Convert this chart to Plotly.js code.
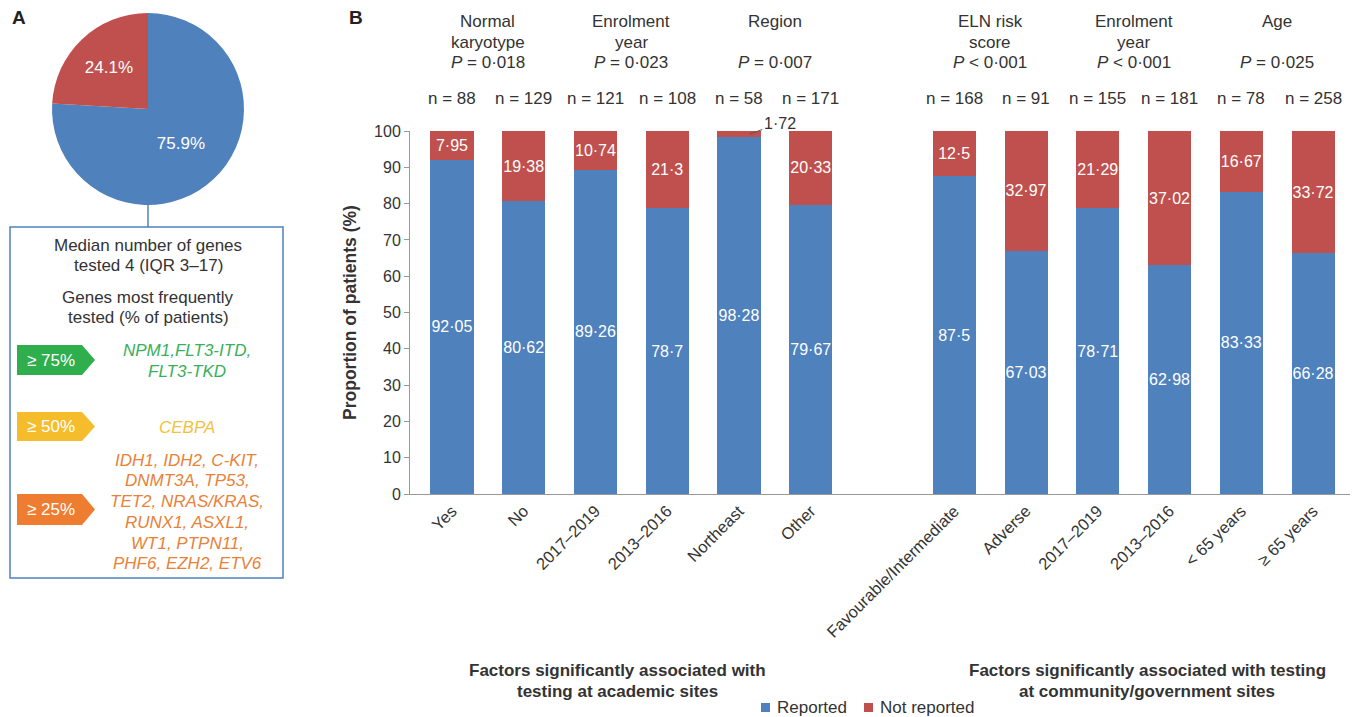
<!DOCTYPE html>
<html>
<head>
<meta charset="utf-8">
<script src="https://cdn.plot.ly/plotly-3.0.1.min.js"></script>
<style>html,body{margin:0;padding:0;background:#fff;}#chart{width:1358px;height:717px;}</style>
</head>
<body>
<div id="chart"></div>
<script>
// ---- Data ----
const barLabels = ["Yes", "No", "2017–2019", "2013–2016", "Northeast", "Other",
  "Favourable/Intermediate", "Adverse", "2017–2019", "2013–2016", "< 65 years", "≥ 65 years"];
const reported = [92.05, 80.62, 89.26, 78.7, 98.28, 79.67, 87.5, 67.03, 78.71, 62.98, 83.33, 66.28];
const notReported = [7.95, 19.38, 10.74, 21.3, 1.72, 20.33, 12.5, 32.97, 21.29, 37.02, 16.67, 33.72];
const nCounts = [88, 129, 121, 108, 58, 171, 168, 91, 155, 181, 78, 258];
const groupTitles = [["Normal", "karyotype"], ["Enrolment", "year"], ["Region"], ["ELN risk", "score"], ["Enrolment", "year"], ["Age"]];
const groupP = ["<i>P</i> = 0·018", "<i>P</i> = 0·023", "<i>P</i> = 0·007", "<i>P</i> < 0·001", "<i>P</i> < 0·001", "<i>P</i> = 0·025"];
const sectionLabels = [["Factors significantly associated with", "testing at academic sites"],
  ["Factors significantly associated with testing", "at community/government sites"]];
const seriesNames = ["Reported", "Not reported"];
const pieLabels = ["Reported", "Not reported"];
const pieValues = [75.9, 24.1];
const boxLines = ["Median number of genes", "tested 4 (IQR 3–17)", "Genes most frequently", "tested (% of patients)"];
const tierLabels = ["≥ 75%", "≥ 50%", "≥ 25%"];
const tierGenes = [
  ["NPM1,FLT3-ITD,", "FLT3-TKD"],
  ["CEBPA"],
  ["IDH1, IDH2, C-KIT,", "DNMT3A, TP53,", "TET2, NRAS/KRAS,", "RUNX1, ASXL1,", "WT1, PTPN11,", "PHF6, EZH2, ETV6"]
];

// ---- Layout helpers ----
const W = 1358, H = 717;
const px = x => x / W;
const py = y => 1 - y / H;
const BLUE = "#4F81BD", RED = "#C0504D";
const FONT = "Liberation Sans, Arial, Helvetica, sans-serif";
const TXT = "#333333";
const tierColors = ["#2FAE4E", "#F5BD2B", "#EE7D31"];
const tierTextColors = ["#38B05A", "#F2C23E", "#E98138"];

const xpos = barLabels.map((_, i) => i < 6 ? i : i + 1);
const fmt = v => String(v).replace(".", "·");

function note(x, y, text, size, color, opts) {
  return Object.assign({xref: "paper", yref: "paper", x: x, y: y, text: text, showarrow: false,
    xanchor: "center", yanchor: "middle", font: {size: size, family: FONT, color: color || TXT}}, opts || {});
}

const traces = [
  {
    type: "pie", labels: pieLabels, values: pieValues, sort: false, direction: "clockwise",
    rotation: 0, marker: {colors: [BLUE, RED], line: {width: 0}},
    text: pieValues.map(v => v.toFixed(1) + "%"), textinfo: "text", textposition: "inside",
    insidetextorientation: "horizontal",
    textfont: {color: "#fff", size: 17, family: FONT},
    domain: {x: [px(52), px(244)], y: [py(205), py(13)]},
    showlegend: false, hoverinfo: "skip"
  },
  {
    type: "bar", name: seriesNames[0], x: xpos, y: reported, marker: {color: BLUE}, width: 0.6,
    text: reported.map(fmt), textposition: "inside", insidetextanchor: "middle", textangle: 0,
    textfont: {color: "#fff", size: 16, family: FONT}, hoverinfo: "skip", showlegend: false
  },
  {
    type: "bar", name: seriesNames[1], x: xpos, y: notReported, marker: {color: RED}, width: 0.6,
    text: notReported.map(v => v < 5 ? "" : fmt(v)), textposition: "inside", insidetextanchor: "middle", textangle: 0,
    textfont: {color: "#fff", size: 16, family: FONT}, hoverinfo: "skip", showlegend: false
  }
];

const annotations = [];
const shapes = [];

// Panel letters
annotations.push(note(px(19), py(18), "<b>A</b>", 19, "#222"));
annotations.push(note(px(356), py(18), "<b>B</b>", 19, "#222"));

// Group headers
const headerY = [22, 43];
for (let g = 0; g < 6; g++) {
  const xc = (xpos[2 * g] + xpos[2 * g + 1]) / 2;
  groupTitles[g].forEach((t, j) => annotations.push(note(xc, py(headerY[j]), t, 17, TXT, {xref: "x"})));
  annotations.push(note(xc, py(63), groupP[g], 17, TXT, {xref: "x"}));
}
// n labels
xpos.forEach((x, i) => annotations.push(note(x, py(99), "n = " + nCounts[i], 17, TXT, {xref: "x"})));
// small value callouts
notReported.forEach((v, i) => {
  if (v < 5) {
    annotations.push({xref: "x", yref: "y", x: xpos[i] + 0.15, y: reported[i] + v / 2, text: fmt(v),
      showarrow: true, arrowhead: 0, arrowwidth: 1, arrowcolor: "#555", ax: 30, ay: -11,
      font: {size: 16, family: FONT, color: TXT}});
  }
});
// Section labels
const secX = [617, 1147];
sectionLabels.forEach((lines, s) => lines.forEach((t, j) =>
  annotations.push(note(px(secX[s]), py(670 + 21 * j), "<b>" + t + "</b>", 17, TXT))));

// Manual legend
const legMarkX = [761, 864];
[BLUE, RED].forEach((c, k) => {
  shapes.push({type: "rect", xref: "paper", yref: "paper", x0: px(legMarkX[k]), x1: px(legMarkX[k] + 9),
    y0: py(703), y1: py(712), fillcolor: c, line: {width: 0}});
  annotations.push(note(px(legMarkX[k] + 14), py(707), seriesNames[k], 17, TXT, {xanchor: "left"}));
});

// Panel A box
shapes.push({type: "rect", xref: "paper", yref: "paper", x0: px(10), x1: px(283), y0: py(227), y1: py(578),
  line: {color: BLUE, width: 1.5}});
shapes.push({type: "line", xref: "paper", yref: "paper", x0: px(148), x1: px(148), y0: py(204), y1: py(227),
  line: {color: BLUE, width: 1.5}});
const boxY = [245, 265, 297, 317];
boxLines.forEach((t, i) => annotations.push(note(px(148), py(boxY[i]), t, 17, TXT)));

const badgeTop = [345, 412, 494];
const badgeBot = [375, 441, 525];
const geneY = [[350, 371], [427], [460, 480, 501, 522, 543, 563]];
tierLabels.forEach((lab, k) => {
  const t = badgeTop[k], b = badgeBot[k], m = (t + b) / 2;
  const path = `M ${px(17)} ${py(t)} L ${px(82)} ${py(t)} L ${px(95)} ${py(m)} L ${px(82)} ${py(b)} L ${px(17)} ${py(b)} Z`;
  shapes.push({type: "path", xref: "paper", yref: "paper", path: path, fillcolor: tierColors[k], line: {width: 0}});
  annotations.push(note(px(51), py(m), lab, 17, "#fff"));
  tierGenes[k].forEach((g, j) => annotations.push(note(px(187), py(geneY[k][j]), "<i>" + g + "</i>", 17, tierTextColors[k])));
});

const layout = {
  width: W, height: H, autosize: false,
  margin: {l: 0, r: 0, t: 0, b: 0},
  paper_bgcolor: "#fff", plot_bgcolor: "#fff",
  barmode: "stack",
  font: {family: FONT, color: TXT, size: 16},
  uniformtext: {mode: "show", minsize: 16},
  xaxis: {
    domain: [px(410), px(1350)], range: [-0.585, 12.515], tickvals: xpos, ticktext: barLabels,
    tickangle: -45, showline: true, linecolor: "#999", linewidth: 1, ticks: "", showgrid: false, zeroline: false,
    tickfont: {size: 16.5, family: FONT, color: TXT}, fixedrange: true
  },
  yaxis: {
    domain: [py(494), py(131)], range: [0, 100], dtick: 10, ticks: "outside", ticklen: 5, tickcolor: "#999",
    showline: true, linecolor: "#999", linewidth: 1, showgrid: false, zeroline: false,
    tickfont: {size: 16, family: FONT, color: TXT},
    title: {text: "<b>Proportion of patients (%)</b>", font: {size: 17.5, family: FONT, color: TXT}, standoff: 12},
    fixedrange: true
  },
  showlegend: false,
  annotations: annotations,
  shapes: shapes
};

Plotly.newPlot("chart", traces, layout, {displayModeBar: false, staticPlot: true});
</script>
</body>
</html>
